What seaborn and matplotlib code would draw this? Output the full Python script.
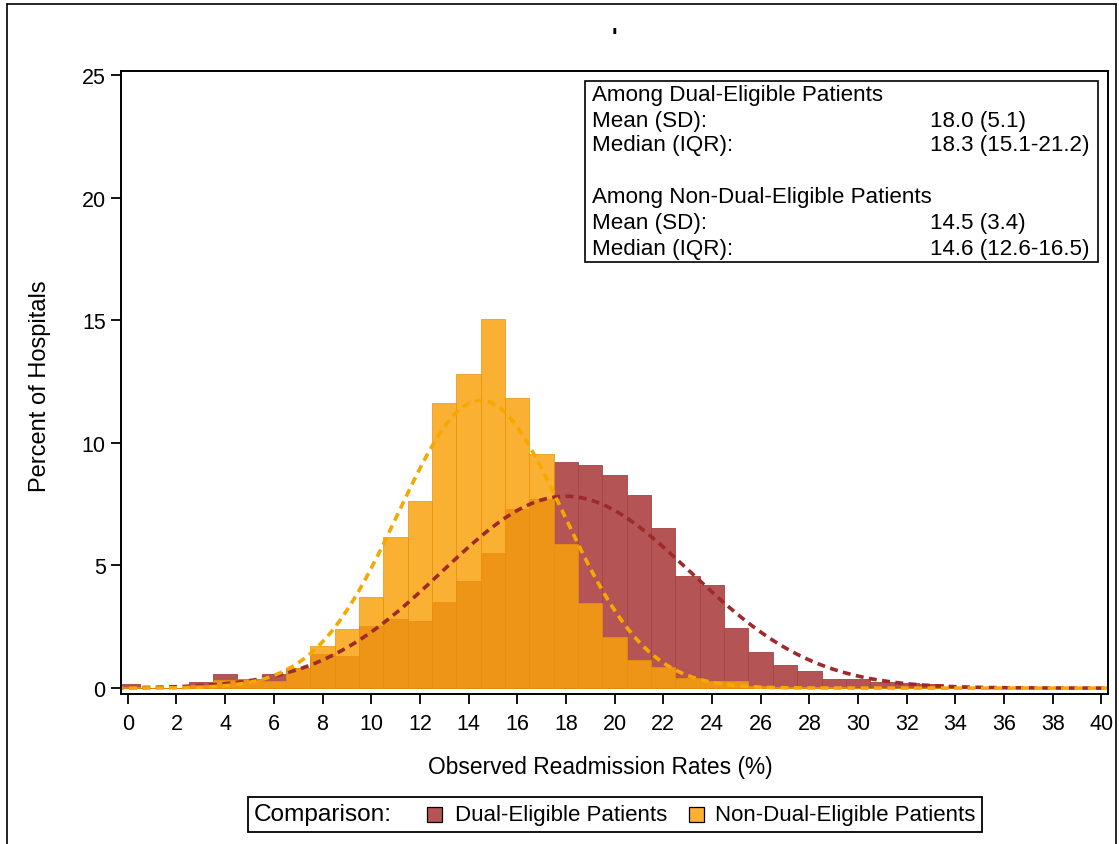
import numpy as np
import pandas as pd
import matplotlib
matplotlib.use("Agg")
import matplotlib.pyplot as plt
import seaborn as sns
from matplotlib.patches import Rectangle
from matplotlib.lines import Line2D
from matplotlib.offsetbox import AnchoredOffsetbox, HPacker, TextArea, DrawingArea

sns.set_theme(style="ticks")
plt.rcParams["font.family"] = ["Liberation Sans", "DejaVu Sans"]

# ---- data -------------------------------------------------------------
rate_bins = np.arange(0, 41)  # bin centres, % readmitted (1-point bins)

dual_pct = [0.15, 0.00, 0.00, 0.24, 0.57, 0.38, 0.57, 0.80, 1.39, 1.29,
            2.55, 2.83, 2.73, 3.51, 4.35, 5.52, 7.31, 7.70, 9.23, 9.10,
            8.67, 7.86, 6.52, 4.57, 4.19, 2.46, 1.47, 0.93, 0.68, 0.38,
            0.38, 0.24, 0.19, 0.15, 0.05, 0.00, 0.00, 0.00, 0.00, 0.00,
            0.00]

nondual_pct = [0.03, 0.02, 0.02, 0.12, 0.34, 0.38, 0.31, 0.82, 1.70, 2.39,
               3.71, 6.16, 7.61, 11.64, 12.82, 15.03, 11.83, 9.56, 5.88, 3.48,
               2.08, 1.13, 0.88, 0.42, 0.29, 0.31, 0.08, 0.05, 0.05, 0.03,
               0.02, 0.00, 0.00, 0.00, 0.00, 0.00, 0.00, 0.00, 0.00, 0.00,
               0.00]

dual_mean, dual_sd = 18.0, 5.1
nondual_mean, nondual_sd = 14.5, 3.4

group_labels = ["Dual-Eligible Patients", "Non-Dual-Eligible Patients"]
stats_rows = [
    ("Among Dual-Eligible Patients", ""),
    ("Mean (SD):", "18.0 (5.1)"),
    ("Median (IQR):", "18.3 (15.1-21.2)"),
    ("", ""),
    ("Among Non-Dual-Eligible Patients", ""),
    ("Mean (SD):", "14.5 (3.4)"),
    ("Median (IQR):", "14.6 (12.6-16.5)"),
]
x_ticks = list(range(0, 41, 2))
y_ticks = list(range(0, 26, 5))

# ---- styling ------------------------------------------------------------
RED = "#B45454"
RED_EDGE = "#A04545"
ORANGE = "#FAA10C"
ORANGE_EDGE = "#E8920A"
RED_LINE = "#9E2A2B"
ORANGE_LINE = "#F7A800"

W, H = 1119, 845


def fx(x):
    return x / W


def fy(y):
    return 1 - y / H


fig = plt.figure(figsize=(W / 100, H / 100), dpi=100)
ax = fig.add_axes([fx(121), fy(695), (1108 - 121) / W, (695 - 72) / H])

hist_df = pd.DataFrame({
    "rate": np.concatenate([rate_bins, rate_bins]).astype(float),
    "pct": np.concatenate([dual_pct, nondual_pct]),
    "group": [group_labels[0]] * len(rate_bins) + [group_labels[1]] * len(rate_bins),
})

sns.histplot(data=hist_df[hist_df.group == group_labels[0]], x="rate", weights="pct",
             binwidth=1, binrange=(-0.5, 40.5), color=RED, alpha=1.0,
             edgecolor=RED_EDGE, linewidth=0.6, ax=ax)
sns.histplot(data=hist_df[hist_df.group == group_labels[1]], x="rate", weights="pct",
             binwidth=1, binrange=(-0.5, 40.5), color=ORANGE, alpha=0.84,
             edgecolor=ORANGE_EDGE, linewidth=0.5, ax=ax)

# fitted normal curves (percent per 1-point bin)
xs = np.linspace(-0.5, 40.5, 600)


def normal_pct(x, m, s):
    return 100.0 * np.exp(-0.5 * ((x - m) / s) ** 2) / (s * np.sqrt(2 * np.pi))


sns.lineplot(x=xs, y=normal_pct(xs, dual_mean, dual_sd), color=RED_LINE,
             linewidth=2.6, linestyle=(0, (2.2, 1.5)), ax=ax)
sns.lineplot(x=xs, y=normal_pct(xs, nondual_mean, nondual_sd), color=ORANGE_LINE,
             linewidth=2.6, linestyle=(0, (2.2, 1.5)), ax=ax)

ax.set_xlim(-0.28, 40.27)
ax.set_ylim(-0.24, 25.16)
ax.set_xticks(x_ticks)
ax.set_yticks(y_ticks)
ax.tick_params(direction="out", length=7, width=1.3, labelsize=15.5,
               color="black", labelcolor="black")
ax.tick_params(axis="x", pad=7)
ax.tick_params(axis="y", pad=4)
for sp in ax.spines.values():
    sp.set_visible(True)
    sp.set_color("black")
    sp.set_linewidth(1.4)

ax.set_xlabel("Observed Readmission Rates (%)", fontsize=16.4, color="black")
ax.set_ylabel("Percent of Hospitals", fontsize=17, color="black")
ax.xaxis.set_label_coords((600 - 121) / 987, (695 - 768) / 623)
ax.xaxis.label.set_verticalalignment("center")
ax.yaxis.set_label_coords((40 - 121) / 987, (695 - 386) / 623)
ax.yaxis.label.set_verticalalignment("center")
ax.yaxis.label.set_horizontalalignment("center")

# statistics inset
fig.patches.append(Rectangle((fx(585), fy(263)), (1098 - 585) / W, (263 - 82) / H,
                             transform=fig.transFigure, facecolor="white",
                             edgecolor="black", linewidth=1.2, zorder=5))
row_y = [96, 121, 146, 172, 198, 223, 249]
for (left, right), yy in zip(stats_rows, row_y):
    if left:
        fig.text(fx(592), fy(yy), left, ha="left", va="center", fontsize=16.1,
                 color="black", zorder=6)
    if right:
        fig.text(fx(930), fy(yy), right, ha="left", va="center", fontsize=16.1,
                 color="black", zorder=6)

# title mark
fig.text(fx(614), fy(45), "'", ha="center", va="baseline", fontsize=17,
         fontweight="bold", color="black")

# legend strip
P = 100 / 72.0  # pixels per point


def spacer(px):
    return DrawingArea(px / P, 1)


def swatch(color):
    d = DrawingArea(15 / P, 15 / P)
    d.add_artist(Rectangle((0, 0), 15 / P, 15 / P, facecolor=color,
                           edgecolor="black", linewidth=0.9))
    return d


leg_items = [
    TextArea("Comparison:", textprops=dict(size=17.6, color="black")),
    spacer(35), swatch(RED), spacer(13),
    TextArea(group_labels[0], textprops=dict(size=16, color="black")),
    spacer(22), swatch("#FBB034"), spacer(11),
    TextArea(group_labels[1], textprops=dict(size=16, color="black")),
]
packer = HPacker(children=leg_items, align="center", pad=0, sep=0)
legend_box = AnchoredOffsetbox(loc="center", child=packer, pad=0.3, borderpad=0,
                               frameon=True, bbox_to_anchor=(fx(615), fy(815.5)),
                               bbox_transform=fig.transFigure,
                               prop=dict(size=16))
legend_box.patch.set_edgecolor("black")
legend_box.patch.set_linewidth(1.3)
fig.add_artist(legend_box)

# outer frame of the graphic
for xs_, ys_ in [([fx(7), fx(7)], [fy(5), 0]),
                 ([fx(7), fx(1116)], [fy(5), fy(5)]),
                 ([fx(1116), fx(1116)], [fy(5), 0])]:
    fig.add_artist(Line2D(xs_, ys_, transform=fig.transFigure, color="black",
                          linewidth=1.2))

fig.savefig("out.png", dpi=100, facecolor="white")
